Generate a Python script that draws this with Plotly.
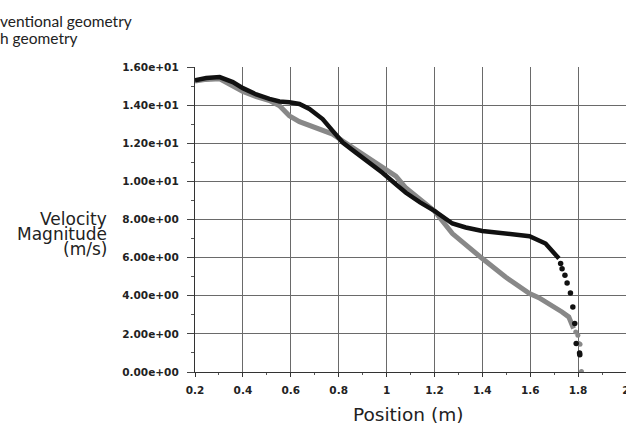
import plotly.graph_objects as go

# Conventional geometry (black) - continuous part
black_x = [0.200, 0.247, 0.303, 0.358, 0.400, 0.456, 0.511, 0.553, 0.594, 0.636,
           0.678, 0.733, 0.775, 0.817, 0.872, 0.928, 0.983, 1.039, 1.081, 1.140,
           1.200, 1.275, 1.331, 1.400, 1.497, 1.597, 1.664, 1.706, 1.720]
black_y = [15.30, 15.42, 15.47, 15.21, 14.89, 14.56, 14.33, 14.19, 14.15, 14.06,
           13.80, 13.27, 12.65, 12.04, 11.51, 10.98, 10.45, 9.85, 9.40, 8.90,
           8.45, 7.79, 7.58, 7.40, 7.26, 7.12, 6.74, 6.21, 5.95]
# Conventional geometry - sparse tail points
black_tail_x = [1.727, 1.733, 1.745, 1.754, 1.768, 1.778, 1.786, 1.792, 1.806, 1.807]
black_tail_y = [5.69, 5.42, 5.07, 4.67, 4.15, 3.41, 2.54, 1.49, 1.00, 0.90]

# Second geometry (gray) - continuous part
gray_x = [0.200, 0.247, 0.303, 0.358, 0.400, 0.456, 0.511, 0.553, 0.594, 0.636,
          0.678, 0.733, 0.775, 0.817, 0.872, 0.928, 0.983, 1.039, 1.081, 1.140,
          1.200, 1.275, 1.331, 1.400, 1.497, 1.597, 1.636, 1.664, 1.692, 1.733,
          1.761, 1.774, 1.781]
gray_y = [15.26, 15.35, 15.38, 15.03, 14.71, 14.45, 14.24, 13.97, 13.44, 13.13,
          12.92, 12.69, 12.48, 12.12, 11.65, 11.24, 10.77, 10.27, 9.65, 9.05,
          8.45, 7.26, 6.65, 5.95, 4.98, 4.11, 3.90, 3.70, 3.50, 3.15,
          2.89, 2.45, 2.28]
gray_tail_x = [1.790, 1.799, 1.803, 1.808, 1.814]
gray_tail_y = [2.10, 1.93, 1.49, 1.45, 0.02]

x_ticks = [0.2, 0.4, 0.6, 0.8, 1.0, 1.2, 1.4, 1.6, 1.8, 2.0]
x_tick_labels = ["0.2", "0.4", "0.6", "0.8", "1", "1.2", "1.4", "1.6", "1.8", "2"]
y_ticks = [0, 2, 4, 6, 8, 10, 12, 14, 16]
y_tick_labels = ["0.00e+00", "2.00e+00", "4.00e+00", "6.00e+00", "8.00e+00",
                 "1.00e+01", "1.20e+01", "1.40e+01", "1.60e+01"]

BLACK = "#111111"
GRAY = "#888888"
GRID = "#6a6a6a"

fig = go.Figure()
fig.add_trace(go.Scatter(x=gray_x, y=gray_y, mode="lines",
                         line=dict(color=GRAY, width=5), showlegend=False))
fig.add_trace(go.Scatter(x=gray_tail_x, y=gray_tail_y, mode="markers",
                         marker=dict(color=GRAY, size=5), showlegend=False))
fig.add_trace(go.Scatter(x=black_x, y=black_y, mode="lines",
                         line=dict(color=BLACK, width=4.5), showlegend=False))
fig.add_trace(go.Scatter(x=black_tail_x, y=black_tail_y, mode="markers",
                         marker=dict(color=BLACK, size=5.5), showlegend=False))

tick_font = dict(family="DejaVu Sans", size=10.5, color="#222222", weight="bold")

fig.update_layout(
    width=626, height=424,
    margin=dict(l=195, r=0, t=67, b=52),
    paper_bgcolor="white", plot_bgcolor="white",
    xaxis=dict(range=[0.2, 2.0], tickmode="array", tickvals=x_ticks,
               ticktext=x_tick_labels, showgrid=True, gridcolor=GRID, gridwidth=1.4,
               showline=True, linecolor="#333333", linewidth=1.4,
               ticks="outside", ticklen=4, tickcolor="#333333",
               tickfont=tick_font, ticklabelstandoff=4, zeroline=False,
               ticklabeloverflow="allow", automargin=False,
               minor=dict(tickvals=[0.3, 0.5, 0.7, 0.9, 1.1, 1.3, 1.5, 1.7, 1.9],
                          ticks="outside", ticklen=2, tickcolor="#555555", showgrid=False)),
    yaxis=dict(range=[0, 16], tickmode="array", tickvals=y_ticks,
               ticktext=y_tick_labels, showgrid=True, gridcolor=GRID, gridwidth=1.4,
               showline=True, linecolor="#333333", linewidth=1.4,
               ticks="outside", ticklen=7, tickcolor="#444444",
               tickfont=tick_font, ticklabelstandoff=6, zeroline=False,
               automargin=False,
               minor=dict(tickvals=[1, 3, 5, 7, 9, 11, 13, 15],
                          ticks="outside", ticklen=3, tickcolor="#555555", showgrid=False)),
)

title_font = dict(family="DejaVu Sans", size=17, color="#222222")
ann = [
    dict(text="Velocity", x=-0.1995, y=0.502),
    dict(text="Magnitude", x=-0.1995, y=0.454),
    dict(text="(m/s)", x=-0.1995, y=0.404),
]
for a in ann:
    fig.add_annotation(xref="paper", yref="paper", x=a["x"], y=a["y"], text=a["text"],
                       showarrow=False, xanchor="right", yanchor="middle", font=title_font)

fig.add_annotation(xref="paper", yref="paper", x=0.494, y=-0.138, text="Position (m)",
                   showarrow=False, xanchor="center", yanchor="middle",
                   font=dict(family="DejaVu Sans", size=18.5, color="#222222"))

legend_font = dict(family="Lato", size=15.5, color="#222222")
fig.add_annotation(xref="paper", yref="paper", x=-0.4570, y=1.151, text="ventional geometry",
                   showarrow=False, xanchor="left", yanchor="middle", font=legend_font)
fig.add_annotation(xref="paper", yref="paper", x=-0.4570, y=1.095, text="h geometry",
                   showarrow=False, xanchor="left", yanchor="middle", font=legend_font)

# remove the default page margin so the 626x424 figure fills the window exactly
fig.write_html("out.html", config={"displayModeBar": False},
               post_script="document.body.style.margin='0';document.body.style.overflow='hidden';")
